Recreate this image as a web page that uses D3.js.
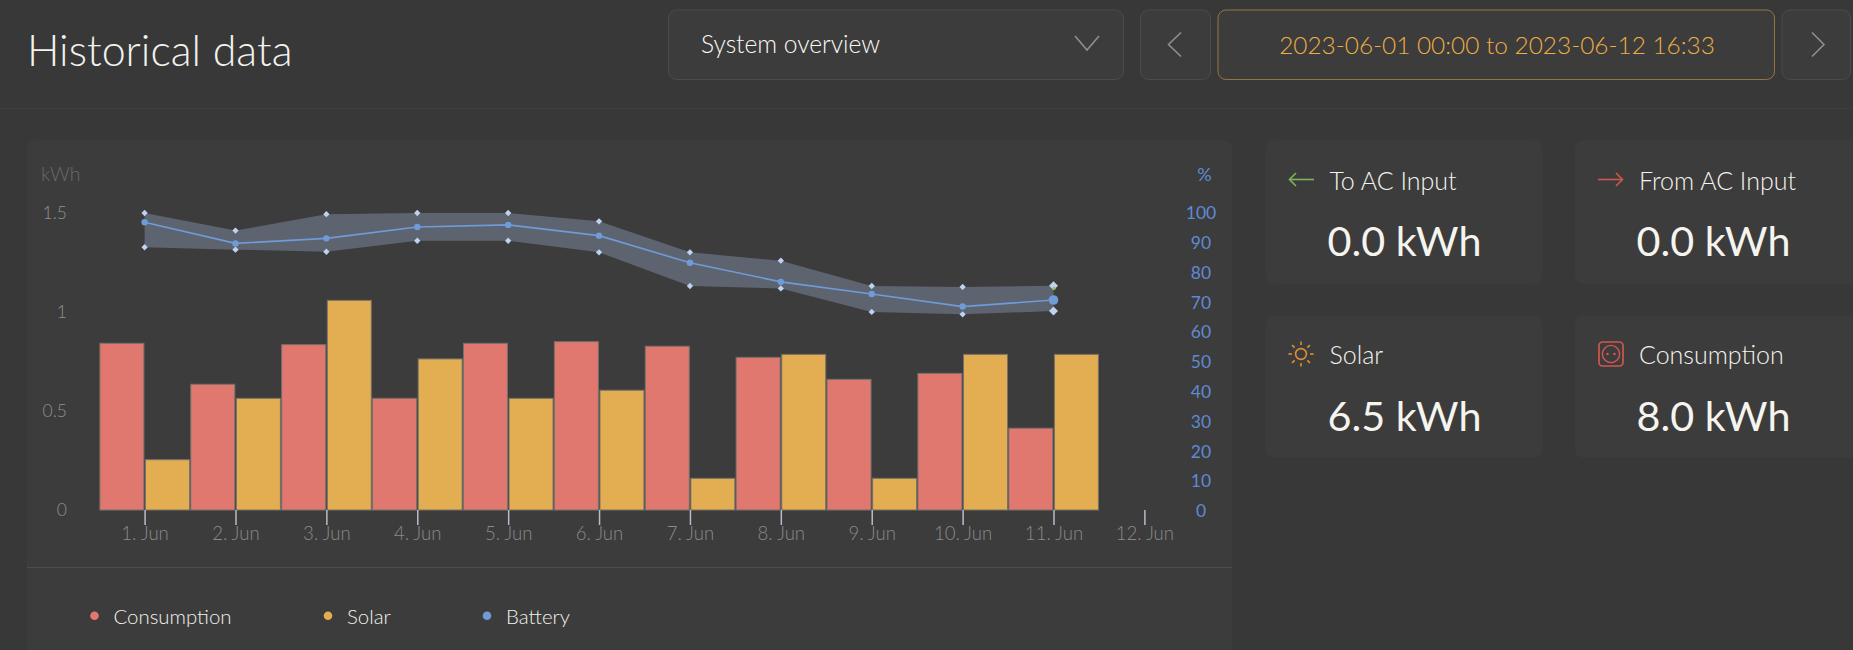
<!DOCTYPE html>
<html><head><meta charset="utf-8">
<script src="https://cdn.jsdelivr.net/npm/d3@7"></script>
<style>
html,body{margin:0;padding:0;background:#383838;overflow:hidden}
svg{display:block}
text{font-family:Lato,"Open Sans",sans-serif}
</style></head><body><svg id="c" width="1853" height="650"></svg>
<script>
const days=[1,2,3,4,5,6,7,8,9,10,11];
const tickDays=[1,2,3,4,5,6,7,8,9,10,11,12];
const consumption=[0.842,0.635,0.835,0.564,0.842,0.85,0.827,0.771,0.66,0.69,0.413];
const solar=[0.254,0.564,1.059,0.763,0.564,0.605,0.16,0.786,0.16,0.786,0.786];
const batteryMean=[96.9,89.8,91.5,95.3,96,92.4,83.3,76.9,72.8,68.6,70.8];
const batteryMax=[100,94.1,99.6,100,100,97.2,86.8,84,75.5,75.2,75.6];
const batteryMin=[88.5,87.7,87,90.7,90.7,86.8,75.5,74.7,66.8,66,67.1];
const kwhTicks=[0,0.5,1,1.5];
const pctTicks=[0,10,20,30,40,50,60,70,80,90,100];
const legendItems=["Consumption","Solar","Battery"];
const COL={cons:"#e07870",sol:"#e3ad52",bat:"#6f9bd8"};

const svg=d3.select("#c");
const x=d3.scaleLinear().domain([1,12]).range([144.6,1144.4]);
const yK=d3.scaleLinear().domain([0,1.5]).range([510,213]);
const yP=d3.scaleLinear().domain([0,100]).range([511,213]);

// panels
const panel=(px,py,w,h,r,fill,stroke)=>svg.append("rect").attr("x",px).attr("y",py).attr("width",w).attr("height",h).attr("rx",r).attr("fill",fill).attr("stroke",stroke||"none");
svg.append("line").attr("x1",0).attr("x2",1853).attr("y1",108.5).attr("y2",108.5).attr("stroke","#3e3e3e");
panel(27,140.5,1205,520,8,"#3c3c3c");
panel(1265.5,140.5,277,143,8,"#3c3c3c");
panel(1575,140.5,290,143,8,"#3c3c3c");
panel(1265.5,315.5,277,142,8,"#3c3c3c");
panel(1575,315.5,290,142,8,"#3c3c3c");
svg.append("line").attr("x1",27).attr("x2",1232).attr("y1",567.5).attr("y2",567.5).attr("stroke","#4c4c4c");

// header
const txt=(s,tx,ty,size,fill,weight,anchor)=>svg.append("text").attr("x",tx).attr("y",ty).attr("font-size",size).attr("fill",fill).attr("font-weight",weight||400).attr("text-anchor",anchor||"start").text(s);
txt("Historical data",27,66,43,"#f3f2ec",300);
panel(668.5,10,455,69.5,8,"#3c3c3c","#4b4b49");
txt("System overview",701,53,24.6,"#fbfaf5",300);
const pl=(pts,stroke,w)=>svg.append("path").attr("d",d3.line()(pts)).attr("fill","none").attr("stroke",stroke).attr("stroke-width",w||1.6);
pl([[1075,36],[1087,50],[1099,36]],"#8f8f8c");
panel(1140.5,10,70,69.5,8,"#3c3c3c","#4b4b49");
pl([[1181,32.5],[1168.5,44.5],[1181,56.5]],"#8f8f8c");
panel(1218,10,556.5,69.5,8,"#3c3c3c","#92763f");
txt("2023-06-01 00:00 to 2023-06-12 16:33",1497,54,24.4,"#efad45",300,"middle");
panel(1782,10,68.5,69.5,8,"#3c3c3c","#4b4b49");
pl([[1812,32.5],[1824,44.5],[1812,56.5]],"#8f8f8c");

// bars
const bw=44;
const g=svg.append("g");
g.selectAll("rect.c").data(days).join("rect").attr("class","c")
 .attr("x",d=>x(d)-bw-0.7).attr("width",bw).attr("y",(d,i)=>yK(consumption[i])).attr("height",(d,i)=>yK(0)-yK(consumption[i]))
 .attr("fill",COL.cons).attr("stroke","#77716a").attr("stroke-width",1);
g.selectAll("rect.s").data(days).join("rect").attr("class","s")
 .attr("x",d=>x(d)+0.9).attr("width",bw).attr("y",(d,i)=>yK(solar[i])).attr("height",(d,i)=>yK(0)-yK(solar[i]))
 .attr("fill",COL.sol).attr("stroke","#77716a").attr("stroke-width",1);

// battery band
const area=d3.area().x(d=>x(d)).y0((d,i)=>yP(batteryMin[i])).y1((d,i)=>yP(batteryMax[i]));
svg.append("path").datum(days).attr("d",area).attr("fill","#5d646f");
svg.append("path").datum(days).attr("d",d3.line().x(d=>x(d)).y((d,i)=>yP(batteryMean[i]))).attr("fill","none").attr("stroke",COL.bat).attr("stroke-width",1.6);
const marks=svg.append("g");
[batteryMax,batteryMin].forEach(arr=>{
 marks.selectAll(null).data(days).join("path")
  .attr("d",(d,i)=>d3.symbol().type(d3.symbolSquare).size(i===10?40:20)())
  .attr("transform",(d,i)=>`translate(${x(d)},${yP(arr[i])}) rotate(45)`).attr("fill","#bfd2ef");
});
marks.selectAll(null).data(days).join("circle").attr("cx",d=>x(d)).attr("cy",(d,i)=>yP(batteryMean[i]))
 .attr("r",(d,i)=>i===10?4.8:3.2).attr("fill",COL.bat);
marks.append("circle").attr("cx",x(11)+0.6).attr("cy",288.5).attr("r",1.6).attr("fill","#8fbf52");

// axes
const ax=svg.append("g").attr("transform","translate(0,510)").call(d3.axisBottom(x).tickValues(tickDays).tickFormat(d=>d+". Jun").tickSize(15).tickPadding(0));
ax.select(".domain").remove();
ax.selectAll("line").attr("stroke","#b9bdc9").attr("stroke-width",1.5);
ax.selectAll("text").attr("fill","#8a8a88").attr("font-size",18.6).attr("font-weight",300).attr("font-family","Lato").attr("y",30).attr("dy",0);
const al=svg.append("g").attr("transform","translate(67,0)").call(d3.axisLeft(yK).tickValues(kwhTicks).tickFormat(d=>String(d)).tickSize(0).tickPadding(0));
al.select(".domain").remove();
al.selectAll("text").attr("fill","#90908e").attr("font-size",17.5).attr("font-weight",300).attr("font-family","Lato");
const ar=svg.append("g").attr("transform","translate(1201,0)").call(d3.axisRight(yP).tickValues(pctTicks).tickSize(0).tickPadding(0));
ar.select(".domain").remove();
ar.selectAll("text").attr("fill","#5f8ad2").attr("font-size",17.5).attr("font-weight",400).attr("font-family","Lato").attr("text-anchor","middle");
txt("kWh",41,181,19.5,"#6a6a68",300);
txt("%",1204.5,181,18,"#5f8ad2",400,"middle");

// legend
const legendX=[94.5,328,487], legendC=[COL.cons,COL.sol,COL.bat];
legendItems.forEach((s,i)=>{
 svg.append("circle").attr("cx",legendX[i]).attr("cy",615.7).attr("r",4.3).attr("fill",legendC[i]);
 txt(s,legendX[i]+19,624,20.4,"#f2f1eb",300);
});

// stat cards
const labels=["To AC Input","From AC Input","Solar","Consumption"];
const values=["0.0 kWh","0.0 kWh","6.5 kWh","8.0 kWh"];
const lx=[1329.5,1639,1329.5,1639], ly=[189.5,189.5,364,364];
const vx=[1327.5,1636.5,1327.5,1636.5], vy=[256,256,430.7,430.7];
labels.forEach((s,i)=>{txt(s,lx[i],ly[i],25,"#f4f3ed",300);txt(values[i],vx[i],vy[i],41.3,"#f5f4ee",400);});
const GR="#79b45c",RD="#d0574f",OR="#dc8f34";
pl([[1314,179.5],[1289.5,179.5]],GR,1.6);pl([[1296,173],[1289.5,179.5],[1296,186]],GR,1.6);
pl([[1598,179.5],[1622.5,179.5]],RD,1.6);pl([[1616,173],[1622.5,179.5],[1616,186]],RD,1.6);
svg.append("circle").attr("cx",1301).attr("cy",354).attr("r",5.4).attr("fill","none").attr("stroke",OR).attr("stroke-width",1.6);
d3.range(8).forEach(k=>{const a=k*Math.PI/4;pl([[1301+9*Math.cos(a),354+9*Math.sin(a)],[1301+12.6*Math.cos(a),354+12.6*Math.sin(a)]],OR,1.6);});
svg.append("rect").attr("x",1599).attr("y",342).attr("width",24).attr("height",24).attr("rx",3.5).attr("fill","none").attr("stroke",RD).attr("stroke-width",1.7);
svg.append("circle").attr("cx",1611).attr("cy",354).attr("r",8.6).attr("fill","none").attr("stroke",RD).attr("stroke-width",1.4);
[1607.5,1614.5].forEach(cx=>svg.append("circle").attr("cx",cx).attr("cy",354).attr("r",1.3).attr("fill",RD));
</script></body></html>
